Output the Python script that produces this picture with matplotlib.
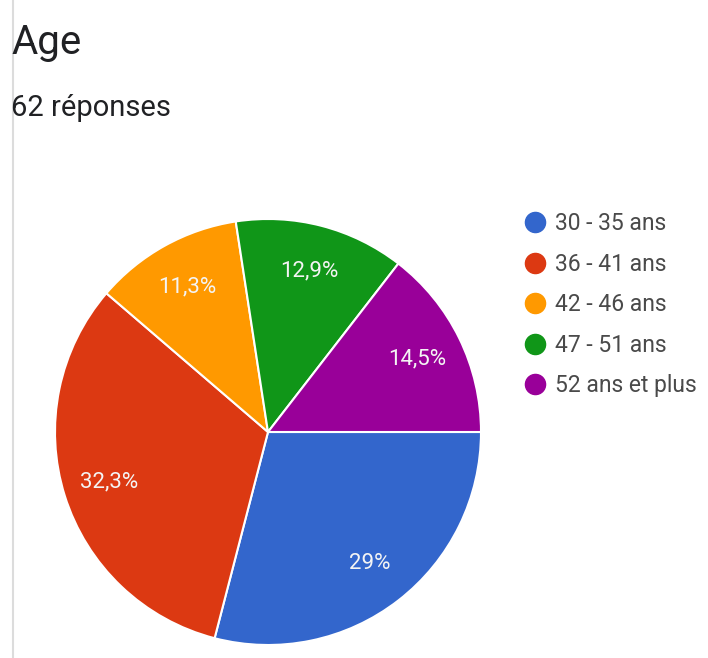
import matplotlib.pyplot as plt
from matplotlib.lines import Line2D

plt.rcParams['font.family'] = ['Roboto', 'DejaVu Sans']

# age groups and response counts
categories = ['30 - 35 ans', '36 - 41 ans', '42 - 46 ans', '47 - 51 ans', '52 ans et plus']
counts = [18, 20, 7, 8, 9]
colors = ['#3366cc', '#dc3912', '#ff9900', '#109618', '#990099']
total = sum(counts)


def fmt_pct(p):
    s = f'{p:.1f}'.replace('.', ',')
    if s.endswith(',0'):
        s = s[:-2]
    return s + '%'


fig = plt.figure(figsize=(7.08, 6.58), dpi=100)

# thin grey rule on the left edge
fig.add_artist(Line2D([13 / 708, 13 / 708], [0, 1], transform=fig.transFigure,
                      color='#dcdcdc', lw=1.5))

fig.text(11 / 708, 1 - 42 / 658, 'Age', fontsize=29, color='#202124', va='center')
fig.text(11 / 708, 1 - 108 / 658, f'{total} réponses', fontsize=21, color='#202124', va='center')

ax = fig.add_axes([55 / 708, 13 / 658, 426 / 708, 426 / 658])
wedges, texts, autotexts = ax.pie(
    counts, colors=colors, startangle=0, counterclock=False,
    autopct=fmt_pct, pctdistance=0.78,
    wedgeprops=dict(edgecolor='white', linewidth=1.5),
    textprops=dict(color='#f4f4f4', fontsize=16),
)
ax.set_xlim(-1, 1)
ax.set_ylim(-1, 1)
ax.set_aspect('equal')

handles = [Line2D([], [], marker='o', linestyle='none', markersize=14.5,
                  markerfacecolor=c, markeredgecolor=c) for c in colors]
fig.legend(handles, categories, loc='upper left', bbox_to_anchor=(510 / 708, 1 - 201 / 658),
           frameon=False, fontsize=16.5, labelcolor='#4a4a4a',
           handletextpad=0.25, labelspacing=0.76, borderpad=0, handlelength=1.2)

fig.savefig('out.png', dpi=100)
